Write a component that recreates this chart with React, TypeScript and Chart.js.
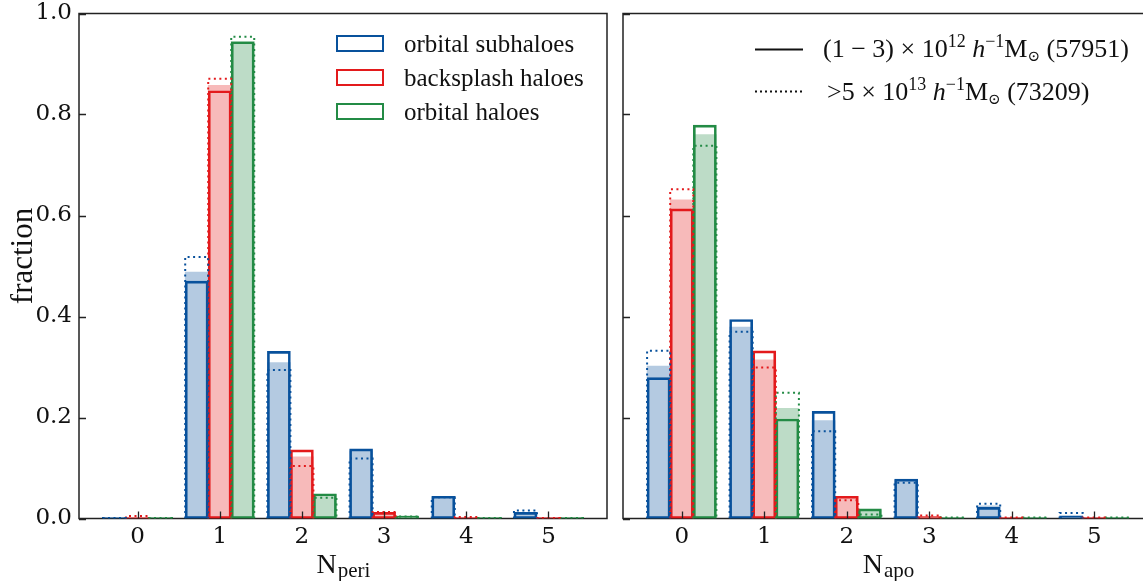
import React, { useEffect, useRef } from "react";
import { Chart, registerables } from "chart.js";

Chart.register(...registerables);

// ---------- data ----------
const nCounts = [0, 1, 2, 3, 4, 5];
const fractionTicks = [0, 0.2, 0.4, 0.6, 0.8, 1.0];
const speciesLabels = ["orbital subhaloes", "backsplash haloes", "orbital haloes"];
const speciesColors = ["#08519c", "#e31a1c", "#238b45"];
const speciesFills = ["rgba(8,81,156,0.3)", "rgba(227,26,28,0.3)", "rgba(35,139,69,0.3)"];
const barOffsets = [-0.28, 0, 0.28];
const barWidth = 0.28;

// N_peri : "All" = filled, "Low" = (1-3)e12 solid, "High" = >5e13 dotted
const periSubAll = [0.002, 0.488, 0.309, 0.134, 0.043, 0.012];
const periSubLow = [0.002, 0.470, 0.331, 0.138, 0.044, 0.012];
const periSubHigh = [0.001, 0.518, 0.294, 0.119, 0.042, 0.016];
const periBackAll = [0.002, 0.858, 0.122, 0.012, 0.002, 0.002];
const periBackLow = [0.002, 0.847, 0.136, 0.012, 0.002, 0.002];
const periBackHigh = [0.005, 0.871, 0.104, 0.013, 0.003, 0.001];
const periOrbAll = [0.002, 0.945, 0.048, 0.005, 0.002, 0.002];
const periOrbLow = [0.002, 0.944, 0.049, 0.005, 0.002, 0.002];
const periOrbHigh = [0.001, 0.954, 0.041, 0.004, 0.001, 0.001];

// N_apo
const apoSubAll = [0.302, 0.379, 0.194, 0.076, 0.025, 0.006];
const apoSubLow = [0.279, 0.394, 0.212, 0.078, 0.022, 0.005];
const apoSubHigh = [0.332, 0.370, 0.173, 0.071, 0.029, 0.011];
const apoBackAll = [0.631, 0.314, 0.044, 0.004, 0.002, 0.002];
const apoBackLow = [0.613, 0.332, 0.044, 0.004, 0.002, 0.002];
const apoBackHigh = [0.652, 0.299, 0.036, 0.006, 0.002, 0.002];
const apoOrbAll = [0.760, 0.218, 0.017, 0.002, 0.002, 0.002];
const apoOrbLow = [0.779, 0.197, 0.019, 0.002, 0.002, 0.002];
const apoOrbHigh = [0.738, 0.249, 0.008, 0.002, 0.002, 0.002];

const yTitle = "fraction";
const periTitle = ["N", "peri"];
const apoTitle = ["N", "apo"];

type Seg = { t: string; size: number; dy?: number; italic?: boolean };
const massLegendLow: Seg[] = [
  { t: "(1 − 3) × 10", size: 26 },
  { t: "12", size: 18, dy: -10 },
  { t: " ", size: 26 },
  { t: "h", size: 26, italic: true },
  { t: "−1", size: 18, dy: -10 },
  { t: "M", size: 26 },
  { t: "⊙", size: 15, dy: 4 },
  { t: " (57951)", size: 26 },
];
const massLegendHigh: Seg[] = [
  { t: ">5 × 10", size: 26 },
  { t: "13", size: 18, dy: -10 },
  { t: " ", size: 26 },
  { t: "h", size: 26, italic: true },
  { t: "−1", size: 18, dy: -10 },
  { t: "M", size: 26 },
  { t: "⊙", size: 15, dy: 4 },
  { t: " (73209)", size: 26 },
];

// ---------- helpers ----------
const FONT = "'Liberation Serif', 'DejaVu Serif', serif";
const TICK_FONT = "'DejaVu Serif', serif";
const font = (size: number, italic = false) => `${italic ? "italic " : ""}${size}px ${FONT}`;

function buildDatasets(all: number[][], low: number[][], high: number[][]) {
  const ds: any[] = [];
  for (let s = 0; s < 3; s++) {
    const xs = nCounts.map((n) => n + barOffsets[s]);
    ds.push({
      type: "bar",
      label: speciesLabels[s],
      data: xs.map((x, i) => ({ x, y: all[s][i] })),
      backgroundColor: speciesFills[s],
      borderWidth: 0,
      grouped: false,
      barPercentage: 1,
      categoryPercentage: 1,
      order: 3,
    });
    ds.push({
      type: "bar",
      label: speciesLabels[s] + " low",
      data: xs.map((x, i) => ({ x, y: low[s][i] })),
      backgroundColor: "rgba(0,0,0,0)",
      borderColor: speciesColors[s],
      borderWidth: 2,
      borderSkipped: false,
      grouped: false,
      barPercentage: 1,
      categoryPercentage: 1,
      order: 2,
    });
    const pts: any[] = [];
    xs.forEach((x, i) => {
      const v = high[s][i];
      const x0 = x - barWidth / 2;
      const x1 = x + barWidth / 2;
      pts.push({ x: x0, y: 0 }, { x: x0, y: v }, { x: x1, y: v }, { x: x1, y: 0 }, { x: x1, y: null });
    });
    ds.push({
      type: "line",
      label: speciesLabels[s] + " high",
      data: pts,
      borderColor: speciesColors[s],
      borderWidth: 2,
      borderDash: [2, 3.5],
      pointRadius: 0,
      fill: false,
      tension: 0,
      spanGaps: false,
      order: 1,
    });
  }
  return ds;
}

function drawRich(ctx: CanvasRenderingContext2D, x: number, y: number, segs: Seg[]) {
  let cx = x;
  for (const s of segs) {
    ctx.font = font(s.size, s.italic);
    ctx.fillText(s.t, cx, y + (s.dy || 0));
    cx += ctx.measureText(s.t).width;
  }
}

function decorPlugin(cfg: { showYLabels: boolean; title: string[]; legend: "species" | "mass" }) {
  return {
    id: "decor",
    beforeDatasetsDraw(chart: any) {
      const { ctx, chartArea: a } = chart;
      ctx.save();
      ctx.strokeStyle = "#222";
      ctx.lineWidth = 1.5;
      ctx.strokeRect(a.left, a.top, a.right - a.left, a.bottom - a.top);
      ctx.restore();
    },
    afterDatasetsDraw(chart: any) {
      const { ctx, chartArea: a, scales } = chart;
      ctx.save();
      ctx.strokeStyle = "#222";
      ctx.lineWidth = 1.3;
      ctx.beginPath();
      for (const v of nCounts) {
        const px = Math.round(scales.x.getPixelForValue(v)) + 0.5;
        ctx.moveTo(px, a.bottom);
        ctx.lineTo(px, a.bottom - 7);
      }
      for (const v of fractionTicks) {
        const py = Math.round(scales.y.getPixelForValue(v)) + 0.5;
        ctx.moveTo(a.left, py);
        ctx.lineTo(a.left + 7, py);
      }
      ctx.stroke();

      ctx.fillStyle = "#111";
      ctx.textBaseline = "alphabetic";
      ctx.textAlign = "left";
      if (cfg.legend === "species") {
        for (let i = 0; i < 3; i++) {
          const y0 = 35 + 34 * i;
          ctx.strokeStyle = speciesColors[i];
          ctx.lineWidth = 2;
          ctx.setLineDash([]);
          ctx.strokeRect(337, y0 + 1, 46, 15);
          ctx.font = font(25);
          ctx.fillStyle = "#111";
          ctx.fillText(speciesLabels[i], 404, y0 + 16.5);
        }
      } else {
        ctx.strokeStyle = "#111";
        ctx.lineWidth = 2;
        ctx.beginPath();
        ctx.moveTo(140, 49.5);
        ctx.lineTo(188, 49.5);
        ctx.stroke();
        ctx.setLineDash([2, 3]);
        ctx.beginPath();
        ctx.moveTo(140, 91.5);
        ctx.lineTo(188, 91.5);
        ctx.stroke();
        ctx.setLineDash([]);
        ctx.fillStyle = "#111";
        drawRich(ctx, 208, 57, massLegendLow);
        drawRich(ctx, 212, 100, massLegendHigh);
      }
      ctx.restore();
    },
    afterDraw(chart: any) {
      const { ctx, chartArea: a } = chart;
      ctx.save();
      ctx.fillStyle = "#111";
      ctx.textBaseline = "alphabetic";
      ctx.textAlign = "left";
      const cx = (a.left + a.right) / 2;
      ctx.font = font(28);
      const wN = ctx.measureText(cfg.title[0]).width;
      ctx.font = font(21);
      const wS = ctx.measureText(cfg.title[1]).width;
      const x0 = cx - (wN + wS) / 2;
      ctx.font = font(28);
      ctx.fillText(cfg.title[0], x0, 573);
      ctx.font = font(21);
      ctx.fillText(cfg.title[1], x0 + wN + 1, 577);
      if (cfg.showYLabels) {
        ctx.translate(32, 256);
        ctx.rotate(-Math.PI / 2);
        ctx.textAlign = "center";
        ctx.font = font(31);
        ctx.fillText(yTitle, 0, 0);
      }
      ctx.restore();
    },
  };
}

function makeConfig(
  all: number[][],
  low: number[][],
  high: number[][],
  opts: { showYLabels: boolean; yWidth: number; padRight: number; title: string[]; legend: "species" | "mass" }
): any {
  return {
    type: "bar",
    data: { datasets: buildDatasets(all, low, high) },
    options: {
      animation: false,
      responsive: false,
      maintainAspectRatio: false,
      layout: { padding: { left: 0, right: opts.padRight, top: 13.5, bottom: 0 } },
      plugins: { legend: { display: false }, tooltip: { enabled: false }, title: { display: false } },
      scales: {
        x: {
          type: "linear",
          min: -0.712,
          max: 5.712,
          offset: false,
          grid: { display: false, drawTicks: false },
          border: { display: false },
          afterBuildTicks: (s: any) => {
            s.ticks = nCounts.map((v) => ({ value: v }));
          },
          afterFit: (s: any) => {
            s.height = 62.5;
            s.paddingLeft = 0;
            s.paddingRight = 0;
          },
          ticks: {
            autoSkip: false,
            maxRotation: 0,
            padding: 6,
            color: "#111",
            font: { family: TICK_FONT, size: 23, lineHeight: 1.1 },
            callback: (v: any) => String(v),
          },
        },
        y: {
          min: 0,
          max: 1,
          grid: { display: false, drawTicks: false },
          border: { display: false },
          afterBuildTicks: (s: any) => {
            s.ticks = fractionTicks.map((v) => ({ value: v }));
          },
          afterFit: (s: any) => {
            s.width = opts.yWidth;
            s.paddingTop = 0;
            s.paddingBottom = 0;
          },
          ticks: {
            display: opts.showYLabels,
            padding: 7,
            color: "#111",
            font: { family: TICK_FONT, size: 23, lineHeight: 1.0 },
            callback: (v: any) => Number(v).toFixed(1),
          },
        },
      },
    },
    plugins: [decorPlugin({ showYLabels: opts.showYLabels, title: opts.title, legend: opts.legend })],
  };
}

export default function App() {
  const leftRef = useRef<HTMLCanvasElement>(null);
  const rightRef = useRef<HTMLCanvasElement>(null);
  useEffect(() => {
    const left = new Chart(
      leftRef.current as HTMLCanvasElement,
      makeConfig(
        [periSubAll, periBackAll, periOrbAll],
        [periSubLow, periBackLow, periOrbLow],
        [periSubHigh, periBackHigh, periOrbHigh],
        { showYLabels: true, yWidth: 79, padRight: 8, title: periTitle, legend: "species" }
      )
    );
    const right = new Chart(
      rightRef.current as HTMLCanvasElement,
      makeConfig(
        [apoSubAll, apoBackAll, apoOrbAll],
        [apoSubLow, apoBackLow, apoOrbLow],
        [apoSubHigh, apoBackHigh, apoOrbHigh],
        { showYLabels: false, yWidth: 8, padRight: 7, title: apoTitle, legend: "mass" }
      )
    );
    return () => {
      left.destroy();
      right.destroy();
    };
  }, []);
  return (
    <div
      style={{
        position: "fixed",
        left: 0,
        top: 0,
        width: 1143,
        height: 581,
        overflow: "hidden",
        background: "#fff",
      }}
    >
      <canvas
        ref={leftRef}
        width={615}
        height={581}
        style={{ position: "absolute", left: 0, top: 0, width: 615, height: 581 }}
      />
      <canvas
        ref={rightRef}
        width={545}
        height={581}
        style={{ position: "absolute", left: 615, top: 0, width: 545, height: 581 }}
      />
    </div>
  );
}
